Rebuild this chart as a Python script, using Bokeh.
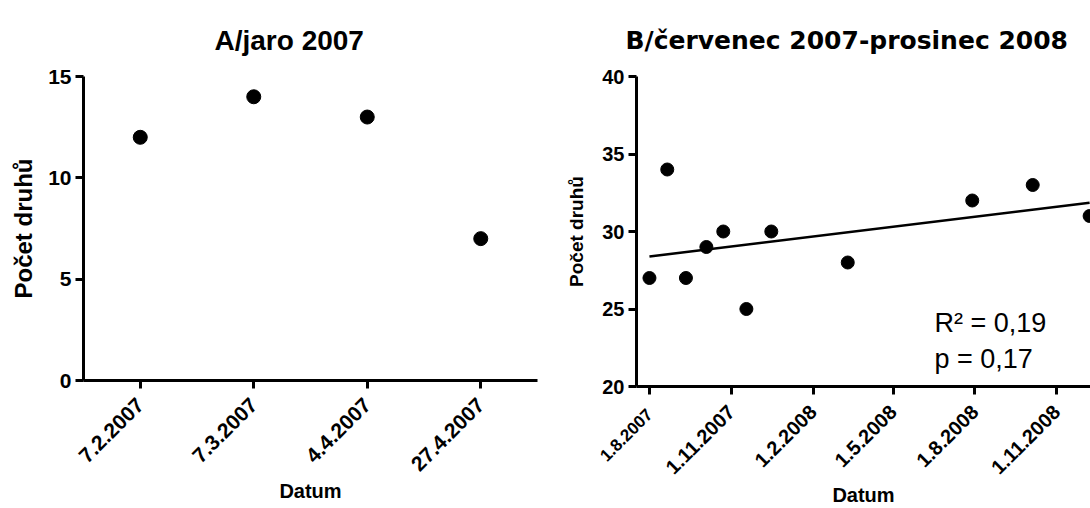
import numpy as np
import pandas as pd
from math import pi
from bokeh.plotting import figure
from bokeh.layouts import row
from bokeh.models import FixedTicker, Label, Range1d, Title, DatetimeAxis
from bokeh.embed import file_html
from bokeh.resources import INLINE

# --- A: spring 2007 -------------------------------------------------------
dates_a = ["7.2.2007", "7.3.2007", "4.4.2007", "27.4.2007"]
species_a = [12, 14, 13, 7]
yticks_a = [0, 5, 10, 15]

# --- B: July 2007 - December 2008 ----------------------------------------
dates_b = ["2007-08-01", "2007-08-21", "2007-09-11", "2007-10-04",
           "2007-10-23", "2007-11-18", "2007-12-16", "2008-03-11",
           "2008-07-29", "2008-10-05", "2008-12-08"]
species_b = [27, 34, 27, 29, 30, 25, 30, 28, 32, 33, 31]
ticks_b = ["2007-08-01", "2007-11-01", "2008-02-01", "2008-05-01",
           "2008-08-01", "2008-11-01"]
tick_labels_b = ["1.8.2007", "1.11.2007", "1.2.2008", "1.5.2008",
                 "1.8.2008", "1.11.2008"]
yticks_b = [20, 25, 30, 35, 40]
r2_text = "R\u00b2 = 0,19"
p_text = "p = 0,17"

FONT = "Liberation Sans"
TITLE_B_FONT = "DejaVu Sans"


def style_axes(xax, yax, p, xsize, ysize):
    for ax in (xax, yax):
        ax.axis_line_width = 3
        ax.axis_line_color = "black"
        ax.major_tick_line_width = 3
        ax.major_tick_line_color = "black"
        ax.major_tick_in = 0
        ax.major_tick_out = 8
        ax.minor_tick_line_color = None
        ax.major_label_text_font = FONT
        ax.major_label_text_font_style = "bold"
        ax.major_label_text_color = "black"
        ax.axis_label_text_font = FONT
        ax.axis_label_text_font_style = "bold"
        ax.axis_label_text_color = "black"
    xax.major_label_text_font_size = xsize
    yax.major_label_text_font_size = ysize
    p.xgrid.grid_line_color = None
    p.ygrid.grid_line_color = None
    p.outline_line_color = None


def make_title(text, font, size, offset, standoff):
    return Title(text=text, align="left", offset=offset, standoff=standoff,
                 text_font=font, text_font_style="bold",
                 text_font_size=size, text_color="black")


def canvas_text(x, y, text, size, bold=True, align="left"):
    return Label(x=x, y=y, x_units="canvas", y_units="canvas", text=text,
                 text_align=align, text_baseline="alphabetic",
                 text_font=FONT, text_font_style="bold" if bold else "normal",
                 text_font_size=size, text_color="black")


# ---------------- panel A ----------------
xa = list(range(len(dates_a)))
pa = figure(width=545, height=508, output_backend="svg", toolbar_location=None,
            x_range=Range1d(-0.5, len(dates_a) - 0.5), y_range=Range1d(0, 15),
            min_border_left=83, min_border_right=8,
            min_border_top=76, min_border_bottom=128, frame_align=False)
pa.title = make_title("A/jaro 2007", FONT, "28px", 131, 41)
xax_a = pa.below[0]
yax_a = pa.left[0]
style_axes(xax_a, yax_a, pa, "21px", "21px")
xax_a.ticker = FixedTicker(ticks=xa)
xax_a.major_label_overrides = {i: d for i, d in zip(xa, dates_a)}
xax_a.major_label_orientation = pi / 4
xax_a.major_label_standoff = 13
xax_a.axis_label = "Datum"
xax_a.axis_label_text_font_size = "20px"
xax_a.axis_label_standoff = 0
yax_a.ticker = FixedTicker(ticks=yticks_a)
yax_a.major_label_standoff = 4
yax_a.axis_label = "Počet druhů"
yax_a.axis_label_text_font_size = "24px"
yax_a.axis_label_standoff = 8
pa.scatter(xa, species_a, size=14, color="black")

# ---------------- panel B ----------------
tb = pd.to_datetime(dates_b)
tk = pd.to_datetime(ticks_b)
tk_ms = [int(t.value // 10**6) for t in tk]
x_start = pd.Timestamp("2007-07-17 10:00")
x_end = pd.Timestamp("2008-12-09")

pb = figure(width=545, height=508, output_backend="svg", toolbar_location=None,
            x_axis_type="datetime",
            x_range=Range1d(x_start, x_end), y_range=Range1d(20, 40),
            min_border_left=91, min_border_right=0,
            min_border_top=76, min_border_bottom=122, frame_align=False)
pb.title = make_title("B/červenec 2007-prosinec 2008", TITLE_B_FONT, "25px",
                      -11, 44)
xax_b = pb.below[0]
yax_b = pb.left[0]
style_axes(xax_b, yax_b, pb, "20px", "20px")
xax_b.ticker = FixedTicker(ticks=tk_ms)
overrides = {m: lab for m, lab in zip(tk_ms, tick_labels_b)}
overrides[tk_ms[0]] = ""
xax_b.major_label_overrides = overrides
xax_b.major_label_orientation = pi / 4
xax_b.major_label_standoff = 14
xax_b.axis_label = "Datum"
xax_b.axis_label_text_font_size = "20px"
xax_b.axis_label_standoff = 0
yax_b.ticker = FixedTicker(ticks=yticks_b)
yax_b.major_label_standoff = 4
yax_b.axis_label = "Počet druhů"
yax_b.axis_label_text_font_size = "19px"
yax_b.axis_label_standoff = 12

# the first date label is set in a smaller size on its own axis
first_axis = DatetimeAxis(ticker=FixedTicker(ticks=tk_ms[:1]),
                          major_label_overrides={tk_ms[0]: tick_labels_b[0]},
                          major_label_orientation=pi / 4,
                          major_label_standoff=-97,
                          major_label_text_font=FONT,
                          major_label_text_font_style="bold",
                          major_label_text_font_size="17px",
                          major_label_text_color="black",
                          axis_line_color=None, major_tick_line_color=None,
                          minor_tick_line_color=None,
                          major_tick_in=0, major_tick_out=0)
pb.add_layout(first_axis, "below")

# linear regression of species count on date
days = np.array([(t - tb[0]).days for t in tb], dtype=float)
slope, intercept = np.polyfit(days, np.array(species_b, dtype=float), 1)
fit_x = [tb[0], tb[-1]]
fit_y = [intercept, intercept + slope * days[-1]]
pb.line(fit_x, fit_y, line_width=2.5, color="black")
pb.scatter(tb, species_b, size=13, color="black")

for txt, y in ((r2_text, 322), (p_text, 358)):
    pb.add_layout(canvas_text(389, y, txt, "27px", bold=False))

layout = row(pa, pb)
open("out.html", "w").write(file_html(layout, INLINE))
